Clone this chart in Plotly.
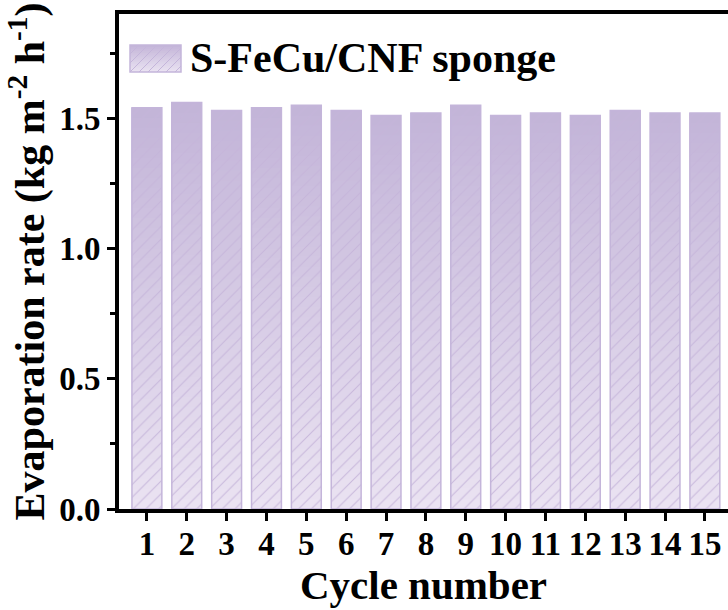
import plotly.graph_objects as go

cycles = list(range(1, 16))
rates = [1.54, 1.56, 1.53, 1.54, 1.55, 1.53, 1.51, 1.52, 1.55, 1.51, 1.52, 1.51, 1.53, 1.52, 1.52]
series_name = "S-FeCu/CNF sponge"

W, H = 728, 610
L, R, T, B = 119, 0, 14, 101
top_rgb = (195, 180, 216)
bot_rgb = (234, 227, 242)
N = 40

def mix(f):
    r = [round(bot_rgb[i] + (top_rgb[i] - bot_rgb[i]) * f) for i in range(3)]
    return "rgb(%d,%d,%d)" % tuple(r)

fig = go.Figure()
# gradient fill built from the data values (each layer covers from its base up to the bar top)
for k in range(N):
    fig.add_trace(go.Bar(
        x=cycles, y=[v * (1 - k / N) for v in rates], base=[v * k / N for v in rates],
        width=0.75, marker=dict(color=mix((k + 0.5) / N), line=dict(width=0)),
        showlegend=False, hoverinfo="skip"))
# hatch + outline
fig.add_trace(go.Bar(
    x=cycles, y=rates, width=0.75, name=series_name, showlegend=False,
    marker=dict(color="rgba(0,0,0,0)",
                line=dict(color="rgb(196,181,218)", width=1.5),
                pattern=dict(shape="/", fillmode="overlay", fgcolor="rgb(196,181,218)",
                             fgopacity=0.9, size=9, solidity=0.12))))

pw, ph = W - L - R, H - T - B
def px(x):
    return (x - L) / pw
def py(y):
    return (T + ph - y) / ph

shapes = []
# legend swatch
lx0, lx1, ly0, ly1 = 130, 181, 45, 72
M = 14
for k in range(M):
    ya = ly1 - (ly1 - ly0) * k / M
    shapes.append(dict(type="rect", xref="paper", yref="paper",
                       x0=px(lx0), x1=px(lx1), y0=py(ya), y1=py(ly0),
                       fillcolor=mix((k + 0.5) / M), line=dict(width=0), layer="above"))
step = 9
xs = lx0 - (ly1 - ly0)
while xs < lx1:
    h = ly1 - ly0
    x_a, y_a = xs, ly1
    x_b, y_b = xs + h, ly0
    if x_a < lx0:
        y_a = ly1 - (lx0 - x_a)
        x_a = lx0
    if x_b > lx1:
        y_b = ly0 + (x_b - lx1)
        x_b = lx1
    if x_b > x_a:
        shapes.append(dict(type="line", xref="paper", yref="paper",
                           x0=px(x_a), y0=py(y_a), x1=px(x_b), y1=py(y_b),
                           line=dict(color="rgb(196,181,218)", width=1), layer="above"))
    xs += step
shapes.append(dict(type="rect", xref="paper", yref="paper",
                   x0=px(lx0), x1=px(lx1), y0=py(ly1), y1=py(ly0),
                   line=dict(color="rgb(196,181,218)", width=1.5), layer="above"))

font = "Liberation Serif, Times New Roman, serif"
fig.update_layout(
    width=W, height=H, margin=dict(l=L, r=R, t=T, b=B),
    paper_bgcolor="white", plot_bgcolor="white",
    barmode="overlay", bargap=0.25, showlegend=False,
    font=dict(family=font, color="black"),
    shapes=shapes,
    annotations=[dict(text="<b>%s</b>" % series_name, xref="paper", yref="paper",
                      x=px(188), y=py(58), xanchor="left", yanchor="middle",
                      showarrow=False, font=dict(size=42, family=font, color="black"))],
    xaxis=dict(range=[0.3, 15.58], tickvals=cycles, ticktext=["<b>%d</b>" % c for c in cycles],
               tickfont=dict(size=33, family=font), ticks="outside", ticklen=8, tickwidth=3,
               tickcolor="black", showline=True, linewidth=4, linecolor="black", mirror=True,
               showgrid=False, zeroline=False, ticklabelstandoff=-6,
               title=dict(text="<b>Cycle number</b>", font=dict(size=41, family=font), standoff=4)),
    yaxis=dict(range=[0, 1.9], tickvals=[0, 0.5, 1.0, 1.5],
               ticktext=["<b>0.0</b>", "<b>0.5</b>", "<b>1.0</b>", "<b>1.5</b>"],
               tickfont=dict(size=33, family=font), ticks="outside", ticklen=8, tickwidth=3,
               tickcolor="black", showline=True, linewidth=4, linecolor="black", mirror=False,
               showgrid=False, zeroline=False,
               minor=dict(tickvals=[0.25, 0.75, 1.25, 1.75], ticks="outside", ticklen=5,
                          tickwidth=3, tickcolor="black"),
               title=dict(text="<b>Evaporation rate (kg m<sup>-2</sup> h<sup>-1</sup>)</b>",
                          font=dict(size=42, family=font), standoff=2)),
)
fig.write_html("out.html")
